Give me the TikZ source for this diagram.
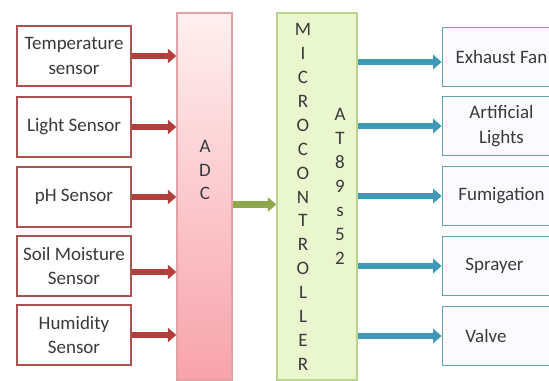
\documentclass[tikz,border=0pt]{standalone}
\usepackage{fontspec}
\setmainfont{Carlito}
\usetikzlibrary{calc,arrows.meta}
\definecolor{sensred}{HTML}{A85252}
\definecolor{arrred}{HTML}{B23E3E}
\definecolor{actblue}{HTML}{3E98B6}
\definecolor{actline}{HTML}{5FA3B5}
\definecolor{arrgreen}{HTML}{8CA84A}
\definecolor{adcpink}{HTML}{F7A3AB}
\definecolor{adcline}{HTML}{E3A2A6}
\definecolor{mcugreen}{HTML}{EAF6CE}
\definecolor{mculine}{HTML}{B9D48E}
\definecolor{txtgray}{HTML}{3A3A3A}
\tikzset{
	txt/.style={text=txtgray, font=\fontsize{13.5}{17.5}\selectfont},
	sensor/.style={txt, draw=sensred, line width=1.2pt, fill=white,
			minimum width=2.85cm, minimum height=1.5cm, align=center, inner sep=1pt},
	actor/.style={txt, draw=actline, line width=1.2pt, fill=blue!2,
			minimum width=2.95cm, minimum height=1.48cm, align=center, inner sep=1pt},
	actleft/.style={actor, text width=2.6cm, align=left},
	letters/.style={txt, align=center, font=\fontsize{13.5}{17}\selectfont},
	redarrow/.style={draw=arrred, line width=4.3pt, -{Triangle[length=6pt,width=10pt]}},
	bluearrow/.style={draw=actblue, line width=4.3pt, -{Triangle[length=6pt,width=10pt]}},
	greenarrow/.style={draw=arrgreen, line width=4.3pt, -{Triangle[length=6pt,width=10pt]}}
}
\begin{document}
\begin{tikzpicture}[x=0.025cm,y=-0.025cm]
		\clip (0,0) rectangle (549,381);
		\fill[white] (0,0) rectangle (549,381);
		% sensors
		\node[sensor] (temp) at (74,56) {Temperature\\sensor};
		\node[sensor] (light) at (74,127) {Light Sensor};
		\node[sensor] (ph) at (74,197) {pH Sensor};
		\node[sensor] (soil) at (74,266) {Soil Moisture\\Sensor};
		\node[sensor] (hum) at (74,335) {Humidity\\Sensor};
		% converter and controller
		\node[draw=adcline, line width=1pt, top color=red!6, bottom color=adcpink,
			minimum width=1.375cm, minimum height=9.175cm, inner sep=0pt] (adc) at (204.5,196.5) {};
		\node[letters] (adctxt) at (205,170) {A\\D\\C};
		\node[draw=mculine, line width=1pt, fill=mcugreen,
			minimum width=2cm, minimum height=9.175cm, inner sep=0pt] (mcu) at (317,196.5) {};
		\node[letters] (mcutxt) at (303,197) {M\\I\\C\\R\\O\\C\\O\\N\\T\\R\\O\\L\\L\\E\\R};
		\node[letters] (chip) at (340,186.5) {A\\T\\8\\9\\s\\5\\2};
		% actuators
		\node[actor] (fan) at (501.5,57) {Exhaust Fan};
		\node[actor] (lights) at (501.5,126) {Artificial\\Lights};
		\node[actor] (fumi) at (501.5,196) {Fumigation};
		\node[actleft] (spray) at (501.5,266) {\hspace{0.4cm}Sprayer};
		\node[actleft] (valve) at (501.5,336) {\hspace{0.4cm}Valve};
		% arrows
		\draw[redarrow] (temp.east) -- (temp.east -| adc.west);
		\draw[redarrow] (light.east) -- (light.east -| adc.west);
		\draw[redarrow] (ph.east) -- (ph.east -| adc.west);
		\draw[redarrow] ($(soil.east)+(0,6)$) -- ($(soil.east -| adc.west)+(0,6)$);
		\draw[redarrow] (hum.east) -- (hum.east -| adc.west);
		\draw[greenarrow] ($(adc.east)+(0,8)$) -- ($(adc.east -| mcu.west)+(0,8)$);
		\draw[bluearrow] ($(mcu.east |- fan.west)+(0,5)$) -- ($(fan.west)+(0,5)$);
		\draw[bluearrow] (mcu.east |- lights.west) -- (lights.west);
		\draw[bluearrow] (mcu.east |- fumi.west) -- (fumi.west);
		\draw[bluearrow] (mcu.east |- spray.west) -- (spray.west);
		\draw[bluearrow] (mcu.east |- valve.west) -- (valve.west);
	\end{tikzpicture}
\end{document}
